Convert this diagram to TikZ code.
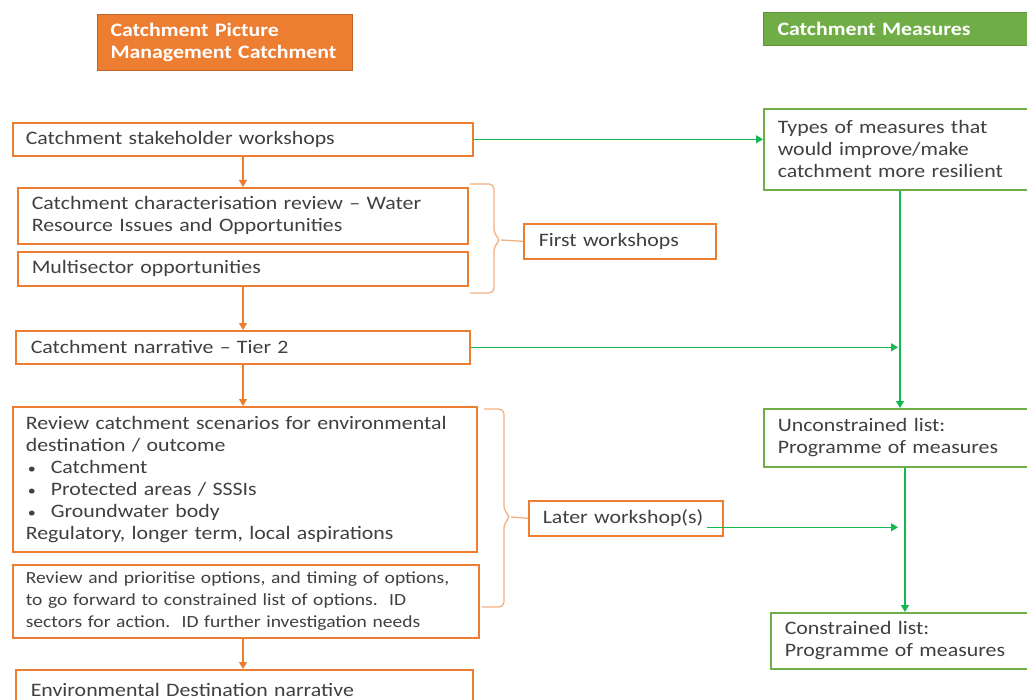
\documentclass[tikz,border=0pt]{standalone}
\usepackage{fontspec}
\setmainfont{Carlito}[FakeStretch=1.15,WordSpace=0.85]
\usetikzlibrary{arrows.meta}
\definecolor{orng}{HTML}{ED7D31}
\definecolor{lorng}{HTML}{F4B183}
\definecolor{grn}{HTML}{70AD47}
\definecolor{agrn}{HTML}{12B850}
\definecolor{txt}{HTML}{404040}
\tikzset{
  obox/.style={draw=orng, line width=1.6pt, anchor=north west, inner xsep=13pt, inner ysep=0pt, align=left, text=txt, font=\fontsize{19}{22}\selectfont},
  gbox/.style={draw=grn, line width=1.6pt, anchor=north west, inner xsep=14pt, inner ysep=0pt, align=left, text=txt, font=\fontsize{19}{22}\selectfont},
  ohdr/.style={draw=orng!80!black, fill=orng, line width=1pt, anchor=north west, inner xsep=13pt, inner ysep=0pt, align=left, text=white, font=\fontsize{19}{22}\selectfont\bfseries},
  ghdr/.style={draw=grn!85!black, fill=grn, line width=1pt, anchor=north west, inner xsep=14pt, inner ysep=0pt, align=left, text=white, font=\fontsize{19}{22}\selectfont\bfseries},
  oarr/.style={draw=orng, line width=1.2pt, -{Triangle[length=7pt,width=8pt]}},
  garr/.style={draw=agrn, line width=1.2pt, -{Triangle[length=7pt,width=8pt]}},
  brc/.style={draw=lorng, line width=1.3pt, rounded corners=5pt},
}
\newcommand{\bul}{\hspace*{2pt}\makebox[23pt][l]{\fontsize{14}{14}\selectfont\textbullet}}
\begin{document}
\begin{tikzpicture}[x=1pt,y=-1pt]
\clip (0,0) rectangle (1027,700);
\fill[white] (0,0) rectangle (1027,700);
% headers
\node[ohdr, text width=229pt, minimum height=56pt] (hl) at (97,14) {Catchment Picture\\Management Catchment};
\node[ghdr, text width=252pt, minimum height=33pt] (hr) at (763,12) {Catchment Measures};
% left column
\node[obox, text width=434pt, minimum height=33pt] (b1) at (12,122) {Catchment stakeholder workshops};
\node[obox, inner xsep=14pt, text width=422pt, minimum height=56pt] (b2) at (17,187) {Catchment characterisation review -- Water\\Resource Issues and Opportunities};
\node[obox, inner xsep=14pt, text width=422pt, minimum height=34pt] (b3) at (17,251) {Multisector opportunities};
\node[obox, inner xsep=15pt, text width=424pt, minimum height=33pt] (b4) at (15,330) {Catchment narrative -- Tier 2};
\node[obox, text width=438pt, minimum height=145pt] (b5) at (12,406) {Review catchment scenarios for environmental\\destination / outcome\\\bul Catchment\\\bul Protected areas / SSSIs\\\bul Groundwater body\\Regulatory, longer term, local aspirations};
\node[obox, text width=440pt, minimum height=73pt, font=\fontsize{17}{22}\selectfont] (b6) at (12,564) {Review and prioritise options, and timing of options,\\to go forward to constrained list of options.\ \ ID\\sectors for action.\ \ ID further investigation needs};
\node[obox, inner xsep=15pt, text width=427pt, minimum height=40pt] (b7) at (15,669) {Environmental Destination narrative\\[-4pt]};
% workshop labels
\node[obox, inner xsep=15pt, text width=162pt, minimum height=35pt] (fw) at (523,223) {First workshops};
\node[obox, inner xsep=14pt, text width=166pt, minimum height=35pt] (lw) at (528,500) {Later workshop(s)};
% right column
\node[gbox, text width=252pt, minimum height=81pt] (ty) at (763,108) {Types of measures that\\would improve/make\\catchment more resilient};
\node[gbox, text width=252pt, minimum height=58pt] (un) at (763,408) {Unconstrained list:\\Programme of measures};
\node[gbox, text width=252pt, minimum height=56pt] (co) at (770,612) {Constrained list:\\Programme of measures};
% orange arrows
\coordinate (ax) at (243,0);
\draw[oarr] (b1.south -| ax) -- (b2.north -| ax);
\draw[oarr] (b3.south -| ax) -- (b4.north -| ax);
\draw[oarr] (b4.south -| ax) -- (b5.north -| ax);
\draw[oarr] (b6.south -| ax) -- (b7.north -| ax);
% braces
\draw[brc] (470,184) -| (494,234) -- (501,240) -- (494,246) |- (470,293);
\draw[brc] (501,240) -- (fw.west);
\draw[brc] (484,409) -| (504,511) -- (511,517) -- (504,523) |- (482,607);
\draw[brc] (511,517) -- (lw.west);
% green arrows
\coordinate (vx) at (900,0);
\coordinate (vy) at (905,0);
\draw[garr] (b1.east) -- (b1.east -| ty.west);
\draw[garr] (ty.south -| vx) -- (un.north -| vx);
\draw[garr] (b4.east) -- ([xshift=-2pt]b4.east -| vx);
\draw[garr] ([xshift=-17pt,yshift=-9pt]lw.east) -- ([xshift=-2pt,yshift=-9pt]lw.east -| vx);
\draw[garr] (un.south -| vy) -- (co.north -| vy);
\end{tikzpicture}
\end{document}
